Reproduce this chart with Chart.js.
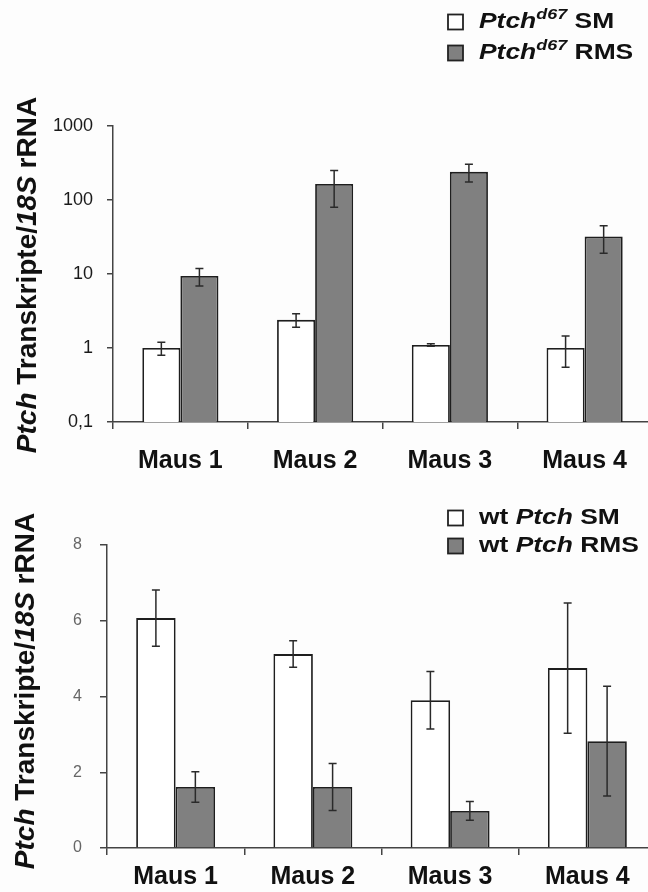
<!DOCTYPE html>
<html>
<head>
<meta charset="utf-8">
<script src="https://cdn.jsdelivr.net/npm/chart.js@4.4.1/dist/chart.umd.min.js"></script>
<style>
  html, body { margin: 0; padding: 0; background: #fdfdfd; overflow: hidden; width: 648px; height: 892px; }
  #top { position: absolute; left: 0; top: 0; }
  #bottom { position: absolute; left: 0; top: 480px; }
</style>
</head>
<body>
<canvas id="top" width="660" height="480"></canvas>
<canvas id="bottom" width="660" height="412"></canvas>
<script>
const categories = ['Maus 1', 'Maus 2', 'Maus 3', 'Maus 4'];

// Ptch d67 mice (log scale)
const d67SM = [1.0, 2.4, 1.1, 1.0];
const d67SMErr = [0.2, 0.5, 0.04, 0.45];
const d67RMS = [9.4, 165, 240, 32];
const d67RMSErr = [2.5, 85, 65, 13];
const logTicks = [0.1, 1, 10, 100, 1000];

// wild type Ptch mice (linear scale)
const wtSM = [6.07, 5.12, 3.9, 4.75];
const wtSMErr = [0.74, 0.35, 0.76, 1.72];
const wtRMS = [1.61, 1.61, 0.98, 2.82];
const wtRMSErr = [0.4, 0.62, 0.25, 1.45];
const linTicks = [0, 2, 4, 6, 8];

const FONT = "'Liberation Sans', Arial, sans-serif";
const AXIS = '#444';
const INK = '#111';
Chart.defaults.font.family = FONT;

// y axis title: Ptch and 18S are set in italics
const yTitle = [
    { t: 'Ptch', i: true },
    { t: ' Transkripte/' },
    { t: '18S', i: true },
    { t: ' rRNA' }
];

function runFont(r, size) {
    const s = r.sup ? Math.round(size * 0.68) : size;
    return (r.i ? 'italic ' : '') + 'bold ' + s + 'px ' + FONT;
}

function runsWidth(ctx, runs, size) {
    let w = 0;
    runs.forEach(r => { ctx.font = runFont(r, size); w += ctx.measureText(r.t).width; });
    return w;
}

function drawRuns(ctx, runs, x, y, size) {
    let cx = x;
    runs.forEach(r => {
        ctx.font = runFont(r, size);
        ctx.fillText(r.t, cx, r.sup ? y - size * 0.32 : y);
        cx += ctx.measureText(r.t).width;
    });
}

// axis title and the mixed-font legend
const decor = {
    id: 'decor',
    afterDraw(chart, args, o) {
        const ctx = chart.ctx;
        ctx.save();
        ctx.fillStyle = INK;
        ctx.textBaseline = 'middle';
        ctx.translate(o.titleX, o.titleY);
        ctx.rotate(-Math.PI / 2);
        const w = runsWidth(ctx, yTitle, 28);
        drawRuns(ctx, yTitle, -w / 2, 0, 28);
        ctx.restore();

        chart.data.datasets.forEach((ds, i) => {
            const y = o.legendY + i * o.legendGap;
            ctx.save();
            ctx.fillStyle = ds.backgroundColor;
            ctx.strokeStyle = '#222';
            ctx.lineWidth = 1.8;
            ctx.fillRect(448, y - 7.5, 15, 15);
            ctx.strokeRect(448, y - 7.5, 15, 15);
            ctx.translate(479, y);
            ctx.scale(1.2, 1);
            ctx.fillStyle = INK;
            ctx.textBaseline = 'middle';
            drawRuns(ctx, ds.legendRuns, 0, 0, 22);
            ctx.restore();
        });
    }
};

const errorBars = {
    id: 'errorBars',
    afterDatasetsDraw(chart) {
        const ctx = chart.ctx;
        const y = chart.scales.y;
        ctx.save();
        ctx.strokeStyle = '#2a2a2a';
        ctx.lineWidth = 1.5;
        chart.data.datasets.forEach((ds, i) => {
            chart.getDatasetMeta(i).data.forEach((bar, j) => {
                const v = ds.data[j], e = ds.errors[j];
                const top = y.getPixelForValue(v + e);
                const bot = y.getPixelForValue(v - e);
                ctx.beginPath();
                ctx.moveTo(bar.x, top); ctx.lineTo(bar.x, bot);
                ctx.moveTo(bar.x - 4, top); ctx.lineTo(bar.x + 4, top);
                ctx.moveTo(bar.x - 4, bot); ctx.lineTo(bar.x + 4, bot);
                ctx.stroke();
            });
        });
        ctx.restore();
    }
};

function bars(label, data, errors, fill, legendRuns, catPct) {
    return {
        label: label,
        data: data,
        errors: errors,
        legendRuns: legendRuns,
        backgroundColor: fill,
        borderColor: '#1e1e1e',
        borderWidth: 1.8,
        categoryPercentage: catPct,
        barPercentage: 1
    };
}

function xAxis(height, pad) {
    return {
        offset: true,
        grid: { offset: true, drawOnChartArea: false, tickLength: 7, color: AXIS, lineWidth: 1.5 },
        border: { color: AXIS, width: 1.5 },
        ticks: { font: { size: 25, weight: 'bold' }, color: INK, padding: pad, maxRotation: 0, autoSkip: false },
        afterFit: s => { s.height = height; }
    };
}

new Chart(document.getElementById('top'), {
    type: 'bar',
    data: {
        labels: categories,
        datasets: [
            bars('Ptchd67 SM', d67SM, d67SMErr, '#ffffff',
                [{ t: 'Ptch', i: true }, { t: 'd67', i: true, sup: true }, { t: ' SM' }], 0.565),
            bars('Ptchd67 RMS', d67RMS, d67RMSErr, '#808080',
                [{ t: 'Ptch', i: true }, { t: 'd67', i: true, sup: true }, { t: ' RMS' }], 0.565)
        ]
    },
    options: {
        responsive: false,
        animation: false,
        devicePixelRatio: 1,
        layout: { padding: { left: 0, top: 126, right: 8, bottom: 0 } },
        scales: {
            x: xAxis(58, 17),
            y: {
                type: 'logarithmic',
                min: 0.1,
                max: 1000,
                afterBuildTicks: s => { s.ticks = logTicks.map(v => ({ value: v })); },
                ticks: { callback: v => String(v).replace('.', ','), font: { size: 18 }, color: '#1a1a1a', padding: 14 },
                grid: { drawOnChartArea: false, tickLength: 6, color: AXIS, lineWidth: 1.5 },
                border: { color: AXIS, width: 1.5 },
                afterFit: s => { s.width = 113; }
            }
        },
        plugins: {
            legend: { display: false },
            tooltip: { enabled: false },
            decor: { titleX: 28, titleY: 275, legendY: 22, legendGap: 31 }
        }
    },
    plugins: [errorBars, decor]
});

new Chart(document.getElementById('bottom'), {
    type: 'bar',
    data: {
        labels: categories,
        datasets: [
            bars('wt Ptch SM', wtSM, wtSMErr, '#ffffff',
                [{ t: 'wt ' }, { t: 'Ptch', i: true }, { t: ' SM' }], 0.575),
            bars('wt Ptch RMS', wtRMS, wtRMSErr, '#808080',
                [{ t: 'wt ' }, { t: 'Ptch', i: true }, { t: ' RMS' }], 0.575)
        ]
    },
    options: {
        responsive: false,
        animation: false,
        devicePixelRatio: 1,
        layout: { padding: { left: 0, top: 65, right: 4, bottom: 0 } },
        scales: {
            x: xAxis(44, 7),
            y: {
                min: 0,
                max: 8,
                afterBuildTicks: s => { s.ticks = linTicks.map(v => ({ value: v })); },
                ticks: { font: { size: 16 }, color: '#666', padding: 18 },
                grid: { drawOnChartArea: false, tickLength: 7, color: AXIS, lineWidth: 1.5 },
                border: { color: AXIS, width: 1.5 },
                afterFit: s => { s.width = 107; }
            }
        },
        plugins: {
            legend: { display: false },
            tooltip: { enabled: false },
            decor: { titleX: 26, titleY: 211, legendY: 38, legendGap: 28 }
        }
    },
    plugins: [errorBars, decor]
});
</script>
</body>
</html>
